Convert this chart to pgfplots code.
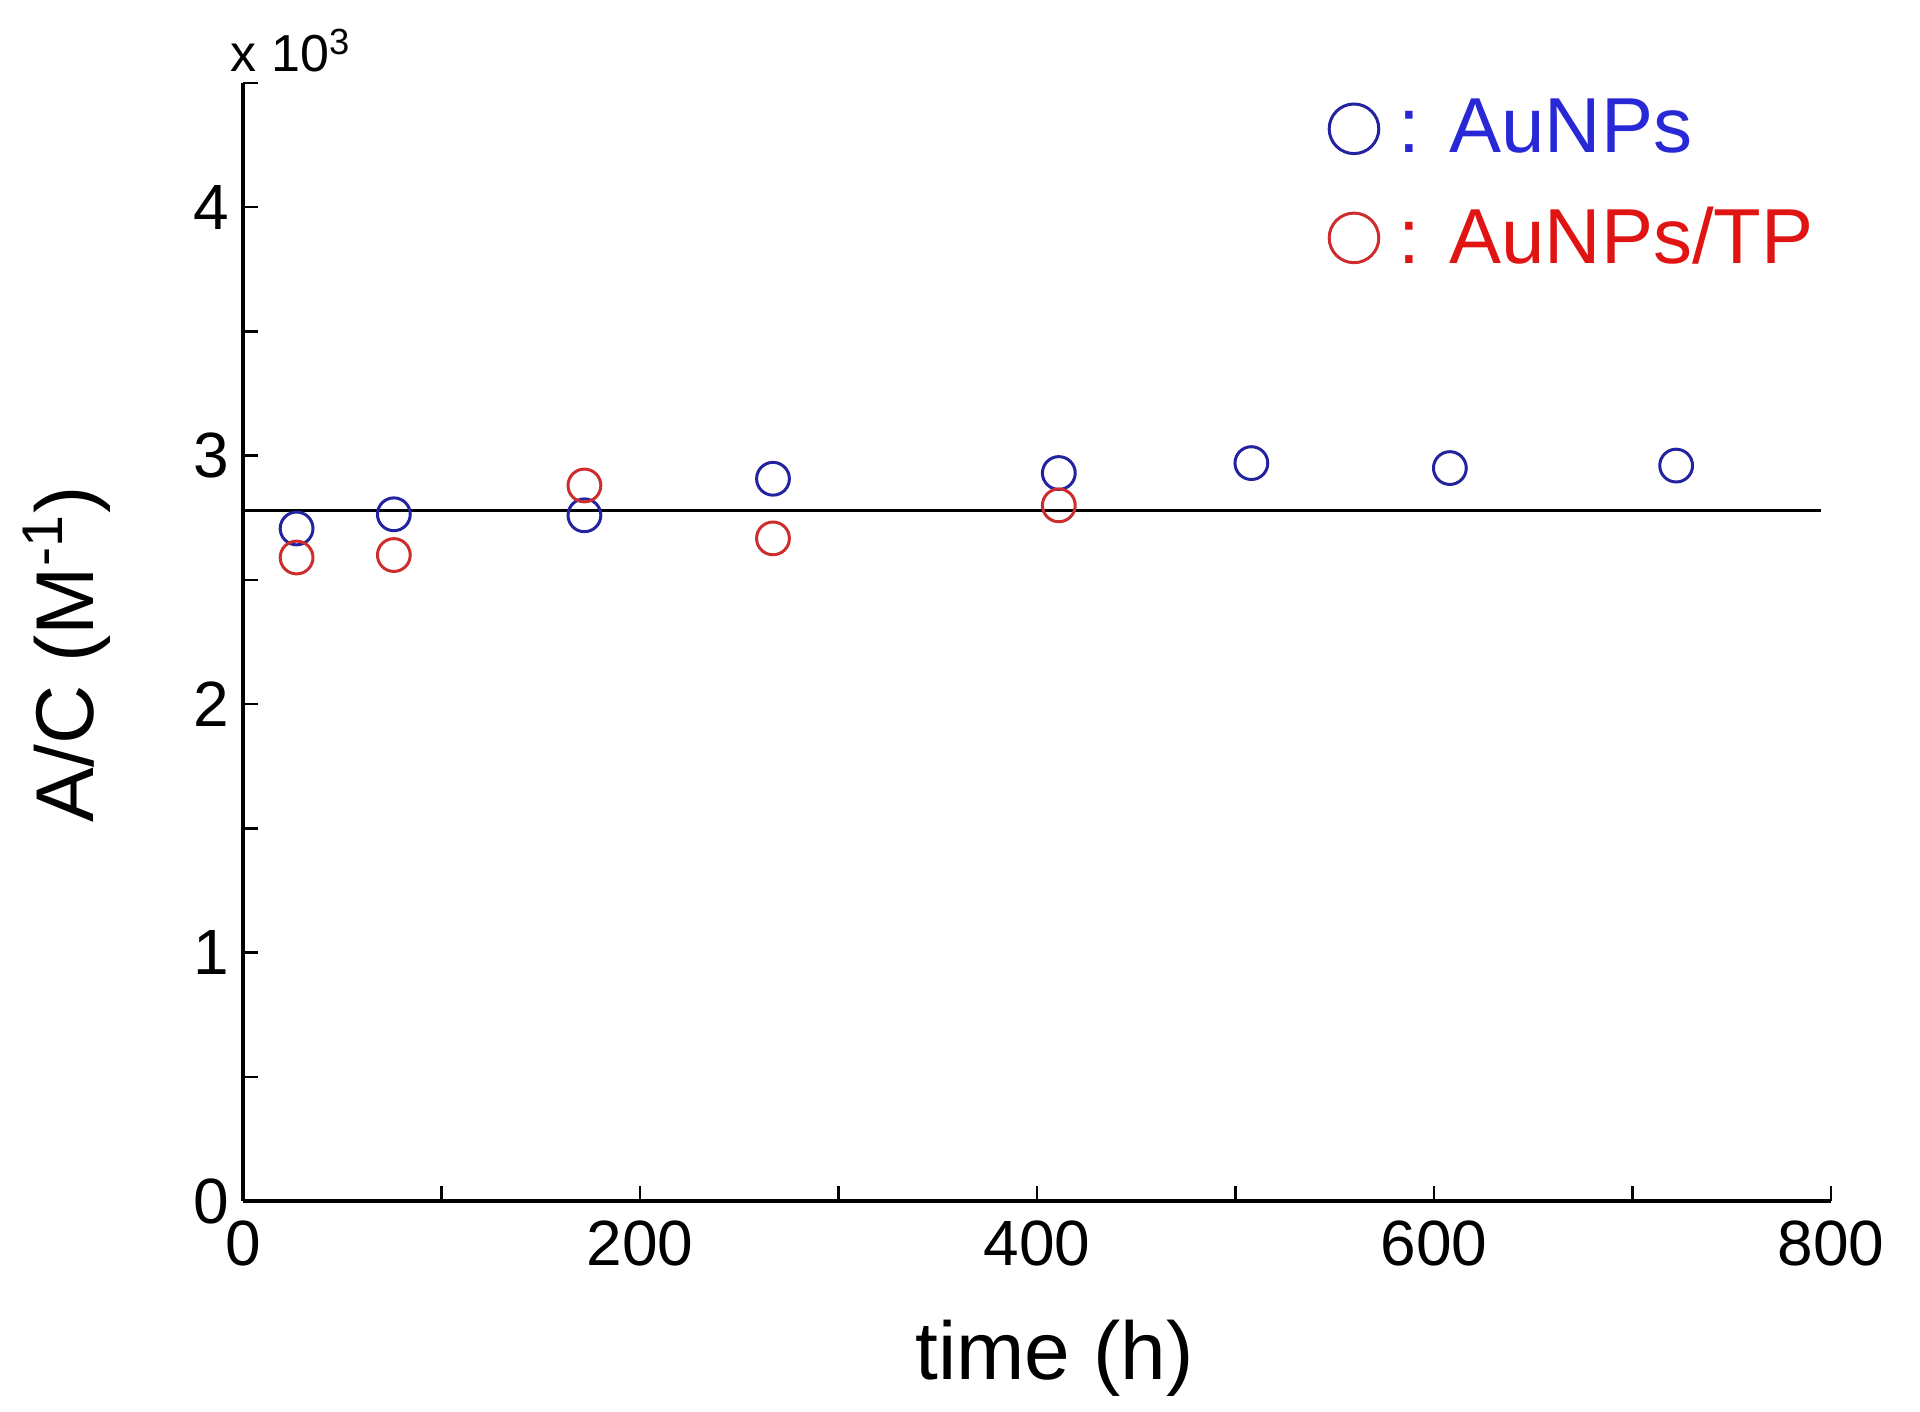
\documentclass[border=0pt]{standalone}
\usepackage{fontspec}
\setmainfont{Liberation Sans}
\usepackage{pgfplots}
\pgfplotsset{compat=1.18}
\definecolor{mblue}{RGB}{35,35,160}
\definecolor{mred}{RGB}{205,45,45}
\definecolor{tblue}{RGB}{40,40,215}
\definecolor{tred}{RGB}{225,20,20}
\begin{document}
\begin{tikzpicture}
\begin{axis}[
  at={(60.75pt,52.75pt)}, anchor=south west,
  scale only axis, width=397pt, height=279.5pt,
  xmin=0, xmax=800, ymin=0, ymax=4.5,
  axis x line*=bottom, axis y line*=left,
  axis line style={line width=0.8pt, -},
  xtick={0,200,...,800}, minor xtick={100,300,500,700},
  ytick={0,1,2,3,4}, minor ytick={0.5,1.5,2.5,3.5,4.5},
  tick align=inside,
  major tick length=3.75pt, minor tick length=3.75pt,
  tick style={line width=0.6pt, black},
  /pgf/number format/assume math mode=true,
  tick label style={font=\fontsize{16}{19}\selectfont},
  xticklabel style={yshift=-1.5pt},
  xlabel={time (h)}, ylabel={A/C (M\textsuperscript{-1})},
  label style={font=\fontsize{20.5}{24}\selectfont},
  xlabel style={at={(rel axis cs:0.511,-0.160)}, anchor=base},
  ylabel style={at={(rel axis cs:-0.0944,0.489)}, anchor=base},
  legend image code/.code={\draw[#1,mark size=6.2pt] plot coordinates {(0pt,0pt)};},
  legend style={draw=none, fill=none, at={(rel axis cs:0.684,0.9857)}, anchor=north west,
    inner sep=0pt, outer sep=0pt, nodes={inner sep=0pt},
    font=\fontsize{19.5}{23}\selectfont, row sep=12pt,
    /tikz/every odd column/.append style={column sep=5pt}},
  legend cell align=left,
]
\addplot[black, line width=0.75pt, forget plot] coordinates {(0,2.78) (795,2.78)};
\addplot[only marks, mark=o, mark size=4.1pt, mblue, mark options={line width=0.75pt}] coordinates {
(27,2.707) (76,2.764) (172,2.76) (267,2.907) (411,2.93) (508,2.97) (608,2.95) (722,2.96)};
\addlegendentry{\textcolor{tblue}{: AuNPs}}
\addplot[only marks, mark=o, mark size=4.1pt, mred, mark options={line width=0.75pt}] coordinates {
(27,2.59) (76,2.60) (172,2.88) (267,2.667) (411,2.80)};
\addlegendentry{\textcolor{tred}{: AuNPs/TP}}
\end{axis}
\node[anchor=base west, inner sep=0pt, font=\fontsize{13}{15}\selectfont] at (57.5pt,335pt) {x 10\textsuperscript{3}};
\pgfresetboundingbox
\path[use as bounding box] (0,0) rectangle (480pt,353pt);
\end{tikzpicture}
\end{document}
